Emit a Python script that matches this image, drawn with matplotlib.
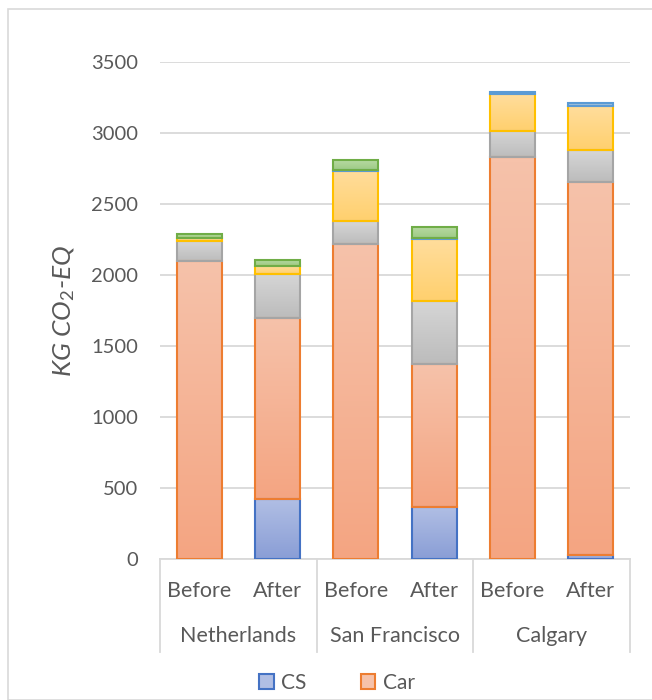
import numpy as np
import matplotlib
matplotlib.use("Agg")
import matplotlib.pyplot as plt
from matplotlib.colors import LinearSegmentedColormap
from matplotlib.patches import Rectangle

plt.rcParams['font.family'] = ['Lato', 'DejaVu Sans']
plt.rcParams['mathtext.fontset'] = 'custom'
plt.rcParams['mathtext.rm'] = 'Lato'
plt.rcParams['mathtext.it'] = 'Lato:italic'

# ---- data ----
groups = ["Netherlands", "San Francisco", "Calgary"]
sub_labels = ["Before", "After", "Before", "After", "Before", "After"]
cs = [0, 420, 0, 365, 0, 25]
car = [2100, 1280, 2220, 1010, 2830, 2630]
gray_s = [140, 310, 160, 445, 185, 225]
yellow_s = [18, 50, 355, 435, 258, 307]
blue_s = [0, 0, 5, 5, 18, 21]
green_s = [33, 47, 70, 75, 0, 0]
yticks = [0, 500, 1000, 1500, 2000, 2500, 3000, 3500]

series = [
    ("CS", cs, ("#B0BEE4", "#8A9ED6"), "#4472C4", True),
    ("Car", car, ("#F6C2AA", "#F4A582"), "#ED7D31", True),
    ("S3", gray_s, ("#D6D6D6", "#BCBCBC"), "#A5A5A5", False),
    ("S4", yellow_s, ("#FFDD9C", "#FFD06E"), "#FFC000", False),
    ("S5", blue_s, ("#A8C8E8", "#8DB6E0"), "#5B9BD5", False),
    ("S6", green_s, ("#B6D9A2", "#9ECB84"), "#70AD47", False),
]

W, H = 652, 700
fig = plt.figure(figsize=(W / 100, H / 100), dpi=100)
fig.patches.append(Rectangle((8 / W, 0), 1, 1 - 9 / H, transform=fig.transFigure,
                             fill=False, edgecolor="#D9D9D9", lw=1.2, zorder=0))

ax = fig.add_axes([160 / W, 1 - 559 / H, 470 / W, 497 / H])
x = np.arange(len(sub_labels))
width = 0.575
bottom = np.zeros(len(x))
grey_text = "#595959"

handles = []
for name, vals, (ctop, cbot), edge, inleg in series:
    vals = np.array(vals, dtype=float)
    bars = ax.bar(x, vals, width, bottom=bottom, facecolor="none",
                  edgecolor=edge, linewidth=1.5, zorder=3, label=name)
    cmap = LinearSegmentedColormap.from_list(name, [cbot, ctop])
    grad = np.linspace(0, 1, 64).reshape(-1, 1)
    for p, v in zip(bars.patches, vals):
        if v <= 0:
            p.set_visible(False)
            continue
        x0, y0 = p.get_x(), p.get_y()
        ax.imshow(grad, cmap=cmap, origin="lower", aspect="auto",
                  extent=[x0, x0 + p.get_width(), y0, y0 + p.get_height()],
                  zorder=2, interpolation="bilinear")
    if inleg:
        handles.append(Rectangle((0, 0), 1, 1, facecolor=ctop, edgecolor=edge, lw=1.5, label=name))
    bottom += vals

ax.set_xlim(-0.5, 5.5)
ax.set_ylim(0, 3500)
ax.set_yticks(yticks)
ax.set_yticklabels([str(t) for t in yticks], fontsize=14.5, color=grey_text)
ax.tick_params(axis="y", length=0, pad=16)
ax.set_xticks([])
for s in ["top", "right", "left"]:
    ax.spines[s].set_visible(False)
ax.spines["bottom"].set_color("#D9D9D9")
ax.spines["bottom"].set_linewidth(1.3)
ax.yaxis.grid(True, color="#D9D9D9", lw=1.3, zorder=0)
ax.set_axisbelow(True)

ax.set_ylabel(r"KG CO$_\mathit{2}$-EQ", fontsize=19, color=grey_text, style="italic", labelpad=10)

# two-level category axis
trans = ax.get_xaxis_transform()
for xs in [-0.5, 1.5, 3.5, 5.5]:
    ax.plot([xs, xs], [0, -0.187], transform=trans, color="#D9D9D9", lw=1.3, clip_on=False)
for xi, lab in zip(x, sub_labels):
    ax.text(xi, -0.064, lab, transform=trans, ha="center", va="center", fontsize=15.5, color=grey_text)
for gi, g in enumerate(groups):
    ax.text(2 * gi + 0.5, -0.155, g, transform=trans, ha="center", va="center", fontsize=15.5, color=grey_text)

fig.legend(handles=handles, loc="center", bbox_to_anchor=(337 / W, 1 - 683 / H), ncol=2,
           frameon=False, fontsize=15, labelcolor=grey_text, handlelength=0.7, handleheight=0.7,
           handletextpad=0.35, columnspacing=2.6)

fig.savefig("out.png", dpi=100)
